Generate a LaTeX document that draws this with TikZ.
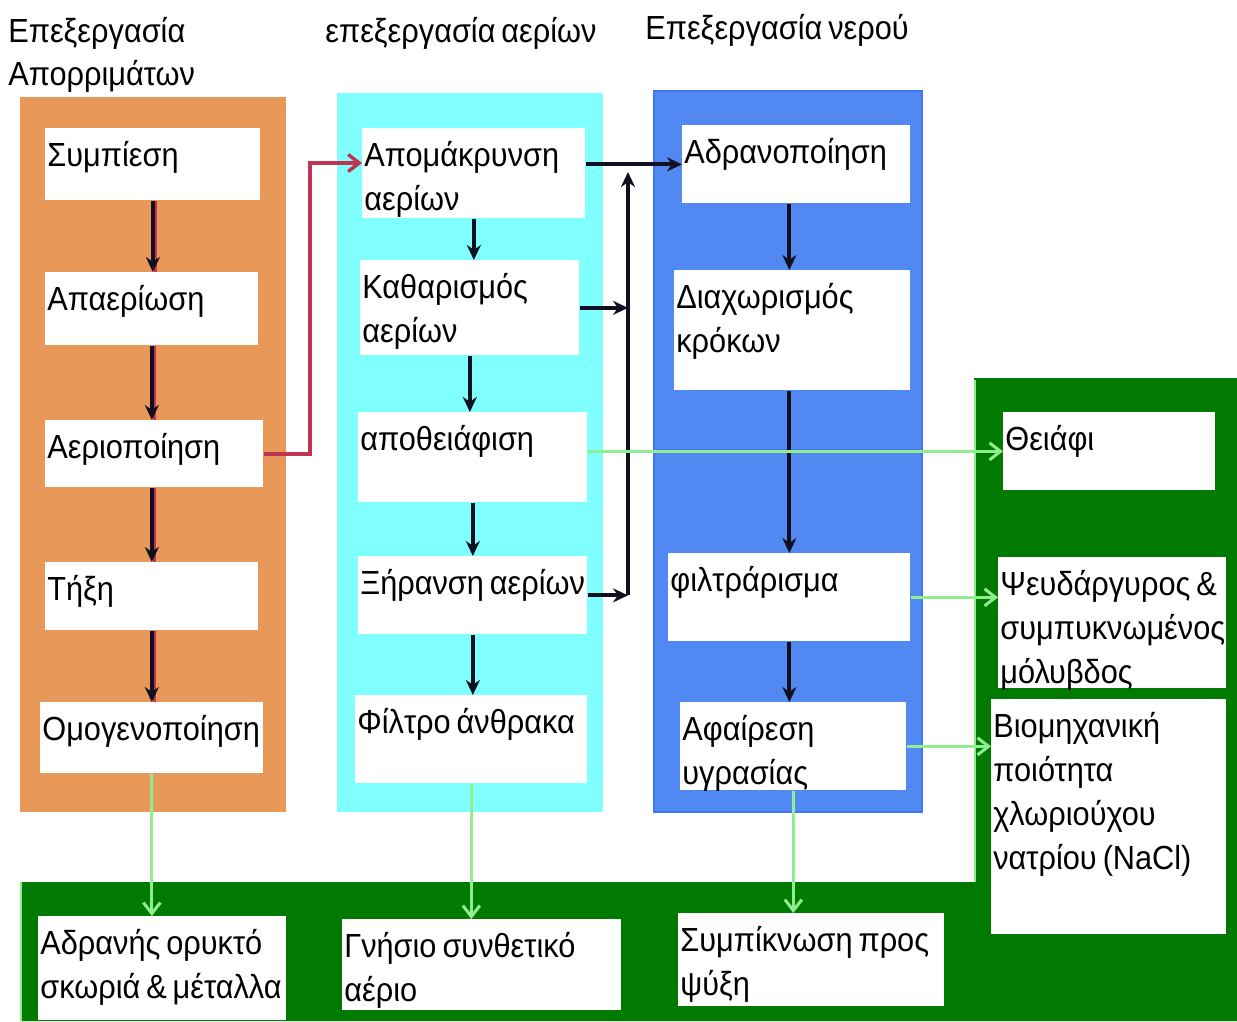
\documentclass[tikz,border=0pt]{standalone}
\usepackage{fontspec}
\setmainfont[FakeStretch=0.92, WordSpace=0.7]{Liberation Sans}
\usetikzlibrary{arrows.meta}

\tikzset{
  whitebox/.style={rectangle, fill=white, anchor=north west, inner sep=0pt},
  boxlabel/.style={anchor=north west, align=left, inner xsep=0.4mm, inner ysep=2.6mm,
    font=\fontsize{19}{25}\selectfont},
  headlabel/.style={anchor=north west, align=left, inner sep=0pt,
    font=\fontsize{19}{24.4}\selectfont},
  darkarrow/.style={draw=cdark, line width=0.8mm, -{Stealth[length=3mm,width=2.8mm]}},
  redarrow/.style={draw=cred, line width=0.7mm, -{Straight Barb[length=2.2mm,width=3.4mm]}},
  redshade/.style={draw=cred, line width=0.6mm},
  flowarrow/.style={draw=cflow, line width=0.6mm, -{Straight Barb[length=2.2mm,width=3.4mm]}},
}

% white box with its text in the top left corner
\newcommand\procbox[5]{%
  \node[whitebox, minimum width=#3, minimum height=#4] (#1) at #2 {};
  \node[boxlabel] (#1-t) at (#1.north west) {#5};}

\begin{document}
\begin{tikzpicture}[x=0.2mm, y=-0.2mm]
\definecolor{cwaste}{RGB}{232,152,88}
\definecolor{cgas}{RGB}{128,255,255}
\definecolor{cwater}{RGB}{82,136,242}
\definecolor{cwaterline}{RGB}{60,118,245}
\definecolor{cprod}{RGB}{0,122,0}
\definecolor{cflow}{RGB}{144,238,144}
\definecolor{cred}{RGB}{190,52,82}
\definecolor{cdark}{RGB}{16,16,32}
\useasboundingbox (0,0) rectangle (1237,1021);
%
% panels
\fill[cwaste] (20,97) rectangle (286,812);
\fill[cgas] (337,93) rectangle (603,812);
\filldraw[fill=cwater, draw=cwaterline, line width=0.5mm] (654,91) rectangle (922,450);
\filldraw[fill=cwater, draw=cwaterline, line width=0.5mm] (654,450) rectangle (922,812);
\fill[cprod] (974,378) -- (1237,378) -- (1237,1021) -- (20,1021) -- (20,882) -- (974,882) -- cycle;
\draw[cflow, line width=0.5mm] (975,380) -- (975,882);
\draw[cflow, line width=0.5mm] (21,882) -- (21,1021);
%
% headings
\node[headlabel] (hwaste) at (8,17) {Επεξεργασία\\Απορριμάτων};
\node[headlabel] (hgas) at (325,17) {επεξεργασία αερίων};
\node[headlabel] (hwater) at (645,14) {Επεξεργασία νερού};
%
% waste column
\procbox{sym}{(45,128)}{43mm}{14.4mm}{Συμπίεση}
\procbox{apa}{(45,272)}{42.6mm}{14.6mm}{Απαερίωση}
\procbox{aer}{(45,420)}{43.6mm}{13.4mm}{Αεριοποίηση}
\procbox{tix}{(45,562)}{42.6mm}{13.6mm}{Τήξη}
\procbox{omo}{(40,702)}{44.6mm}{14.2mm}{Ομογενοποίηση}
%
% gas column
\procbox{apom}{(362,128)}{44.6mm}{18mm}{Απομάκρυνση\\αερίων}
\procbox{kath}{(360,260)}{43.8mm}{19mm}{Καθαρισμός\\αερίων}
\procbox{apoth}{(358,412)}{45.8mm}{18mm}{αποθειάφιση}
\procbox{xir}{(358,556)}{45.8mm}{15.6mm}{Ξήρανση αερίων}
\procbox{filt}{(355,695)}{46.4mm}{17.6mm}{Φίλτρο άνθρακα}
%
% water column
\procbox{adr}{(682,125)}{45.6mm}{15.6mm}{Αδρανοποίηση}
\procbox{diax}{(674,270)}{47.2mm}{24mm}{Διαχωρισμός\\κρόκων}
\procbox{filtr}{(668,553)}{48.4mm}{17.6mm}{φιλτράρισμα}
\procbox{afair}{(680,702)}{45.2mm}{17.6mm}{Αφαίρεση\\υγρασίας}
%
% products
\procbox{thei}{(1003,412)}{42.4mm}{15.6mm}{Θειάφι}
\procbox{pseu}{(998,557)}{45.6mm}{26.2mm}{Ψευδάργυρος \&\\συμπυκνωμένος\\μόλυβδος}
\procbox{viom}{(991,699)}{47mm}{47mm}{Βιομηχανική\\ποιότητα\\χλωριούχου\\νατρίου (NaCl)}
\procbox{adrn}{(38,916)}{49.6mm}{20.8mm}{Αδρανής ορυκτό\\σκωριά \& μέταλλα}
\procbox{gnis}{(342,919)}{55.8mm}{18.2mm}{Γνήσιο συνθετικό\\αέριο}
\procbox{symp}{(678,913)}{53.2mm}{18.6mm}{Συμπίκνωση προς\\ψύξη}
%
\coordinate (rj) at (310,163);
\coordinate (bus) at (628,172);
%
% waste flow
\draw[redshade] ([xshift=0.6mm]sym.south) -- ([xshift=0.6mm]sym.south |- apa.north);
\draw[redshade] ([xshift=0.6mm]apa.south) -- ([xshift=0.6mm]apa.south |- aer.north);
\draw[redshade] ([xshift=0.6mm]apa.south |- aer.south) -- ([xshift=0.6mm]apa.south |- tix.north);
\draw[redshade] ([xshift=0.6mm]tix.south) -- ([xshift=0.6mm]tix.south |- omo.north);
\draw[darkarrow] (sym.south) -- (sym.south |- apa.north);
\draw[darkarrow] (apa.south) -- (apa.south |- aer.north);
\draw[darkarrow] (apa.south |- aer.south) -- (apa.south |- tix.north);
\draw[darkarrow] (tix.south) -- (tix.south |- omo.north);
\draw[redarrow] (aer.east) -| (rj) -- (rj -| apom.west);
%
% gas flow
\draw[darkarrow] (apom.south) -- (apom.south |- kath.north);
\draw[darkarrow] (kath.south) -- (kath.south |- apoth.north);
\draw[darkarrow] (apoth.south) -- (apoth.south |- xir.north);
\draw[darkarrow] (xir.south) -- (xir.south |- filt.north);
\draw[darkarrow] (adr.west -| apom.east) -- (adr.west);
\draw[darkarrow] (kath.east) -- (kath.east -| bus);
\draw[darkarrow] (xir.east) -- (xir.east -| bus);
\draw[darkarrow] (xir.east -| bus) -- (bus);
%
% water flow
\draw[darkarrow] (filtr.north |- adr.south) -- (filtr.north |- diax.north);
\draw[darkarrow] (filtr.north |- diax.south) -- (filtr.north);
\draw[darkarrow] (filtr.south) -- (filtr.south |- afair.north);
%
% products
\draw[flowarrow] (thei.west -| apoth.east) -- (thei.west);
\draw[flowarrow] (filtr.east) -- (filtr.east -| pseu.west);
\draw[flowarrow] (afair.east) -- (afair.east -| viom.west);
\draw[flowarrow] (omo.south) -- (omo.south |- adrn.north);
\draw[flowarrow] (filt.south) -- (filt.south |- gnis.north);
\draw[flowarrow] (afair.south) -- (afair.south |- symp.north);
%
\end{tikzpicture}
\end{document}
